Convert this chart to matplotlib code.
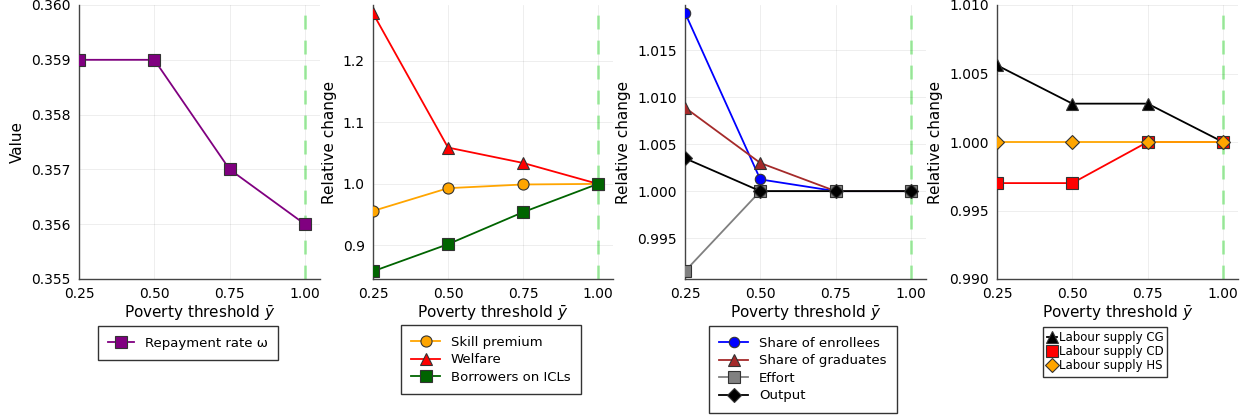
import matplotlib
matplotlib.use('Agg')
from matplotlib import pyplot as plt

# data
ybar=[0.25,0.5,0.75,1.0]

repayment=[0.359,0.359,0.357,0.356]

skill_premium=[0.956,0.993,0.999,1.0]
welfare=[1.277,1.059,1.034,1.0]
borrowers=[0.858,0.902,0.954,1.0]

enrollees=[1.019,1.00125,1.0,1.0]
graduates=[1.0089,1.003,1.0,1.0]
effort=[0.99147,1.0,1.0,1.0]
output=[1.0035,1.0,1.0,1.0]

ls_cg=[1.0056,1.0028,1.0028,1.0]
ls_cd=[0.997,0.997,1.0,1.0]
ls_hs=[1.0,1.0,1.0,1.0]

W,H=1250,417
fig=plt.figure(figsize=(W/100,H/100),dpi=100)
plt.rcParams['font.family']='DejaVu Sans'

def mkax(left,width,top=5,bottom=279):
    ax=fig.add_axes([left/W,(H-bottom)/H,width/W,(bottom-top)/H])
    ax.set_xlim(0.25,1.05)
    ax.set_xticks([0.25,0.5,0.75,1.0],['0.25','0.50','0.75','1.00'])
    ax.grid(True,color='k',alpha=0.08,lw=0.6)
    for s in ['top','right']:
        ax.spines[s].set_visible(False)
    for s in ['left','bottom']:
        ax.spines[s].set_color('#444444')
        ax.spines[s].set_linewidth(1.0)
    ax.tick_params(length=0,labelsize=10,pad=6)
    ax.axvline(1.0,color='#90EE90',alpha=0.8,lw=2,ls=(0,(5,4)),zorder=1)
    ax.set_xlabel(r'Poverty threshold $\bar{y}$',fontsize=11,labelpad=2)
    return ax

mk=dict(mec='#333333',mew=0.8,lw=1.3,zorder=3)

def leg(ax,cx,top,fs=9.5,**kw):
    l=ax.legend(loc='upper center',bbox_to_anchor=(cx/W,(H-top)/H),bbox_transform=fig.transFigure,
                fontsize=fs,fancybox=False,edgecolor='#333333',framealpha=1,borderaxespad=0,**kw)
    l.get_frame().set_linewidth(1.0)
    return l

# panel 1
ax1=mkax(79,241)
ax1.plot(ybar,repayment,color='purple',marker='s',ms=9,label='Repayment rate ω',**mk)
ax1.set_ylim(0.355,0.360)
ax1.set_yticks([0.355,0.356,0.357,0.358,0.359,0.360])
ax1.set_ylabel('Value',fontsize=11)
ax1.yaxis.set_label_coords((25-79)/241,0.5)
leg(ax1,188,326,borderpad=0.8,handlelength=2.0)

# panel 2
ax2=mkax(373,240)
ax2.plot(ybar,skill_premium,color='orange',marker='o',ms=8,label='Skill premium',**mk)
ax2.plot(ybar,welfare,color='red',marker='^',ms=9,label='Welfare',**mk)
ax2.plot(ybar,borrowers,color='darkgreen',marker='s',ms=8.5,label='Borrowers on ICLs',**mk)
ax2.set_ylim(0.8455,1.2905)
ax2.set_yticks([0.9,1.0,1.1,1.2])
ax2.set_ylabel('Relative change',fontsize=11)
leg(ax2,491,325,borderpad=0.8,handlelength=2.2,labelspacing=0.35)

# panel 3
ax3=mkax(685,241)
ax3.plot(ybar,enrollees,color='blue',marker='o',ms=7.5,label='Share of enrollees',**mk)
ax3.plot(ybar,graduates,color='brown',marker='^',ms=9,label='Share of graduates',**mk)
ax3.plot(ybar,effort,color='gray',marker='s',ms=8.5,label='Effort',**mk)
ax3.plot(ybar,output,color='black',marker='D',ms=7,label='Output',**mk)
ax3.set_ylim(0.99064,1.01983)
ax3.set_yticks([0.995,1.0,1.005,1.01,1.015],['0.995','1.000','1.005','1.010','1.015'])
ax3.set_ylabel('Relative change',fontsize=11)
leg(ax3,803,326,borderpad=0.8,handlelength=2.2,labelspacing=0.35)

# panel 4
ax4=mkax(997,241)
ax4.plot(ybar,ls_cg,color='black',marker='^',ms=9,label='Labour supply CG',**mk)
ax4.plot(ybar,ls_cd,color='red',marker='s',ms=8.5,label='Labour supply CD',**mk)
ax4.plot(ybar,ls_hs,color='orange',marker='D',ms=7,label='Labour supply HS',**mk)
ax4.set_ylim(0.99,1.01)
ax4.set_yticks([0.99,0.995,1.0,1.005,1.01],['0.990','0.995','1.000','1.005','1.010'])
ax4.set_ylabel('Relative change',fontsize=11)
leg(ax4,1105,327,fs=8.5,borderpad=0.35,handlelength=0.9,handletextpad=0.1,labelspacing=0.1)

fig.savefig('out.png',dpi=100)
